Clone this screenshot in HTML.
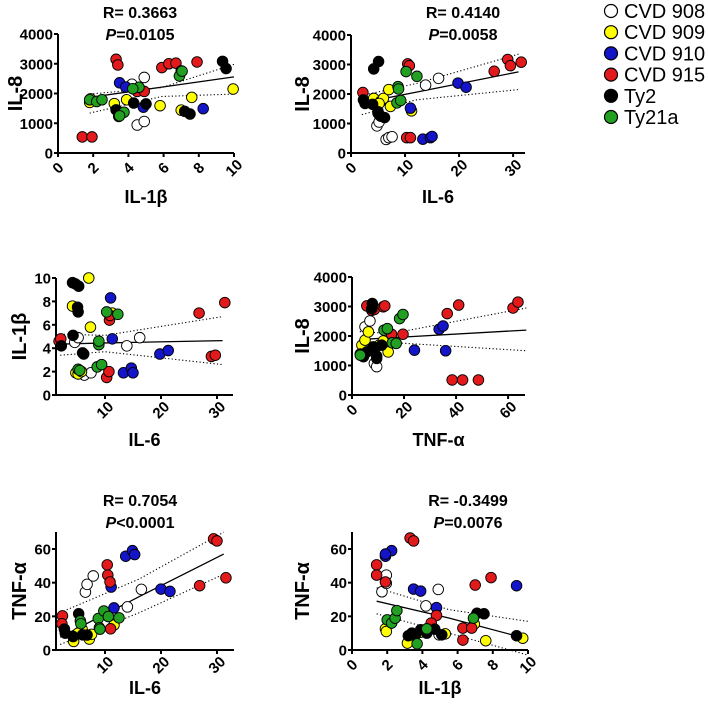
<!DOCTYPE html>
<html><head><meta charset="utf-8"><style>
body{margin:0;background:#fff;}
svg{display:block;font-family:"Liberation Sans",Arial,sans-serif;}
</style></head><body>
<svg id="c" width="708" height="707" viewBox="0 0 708 707"></svg>
<script>
// ---- Data (per panel, per group: [x, y] pairs) ----
const groups = ["CVD 908","CVD 909","CVD 910","CVD 915","Ty2","Ty21a"];
const groupColors = ["#ffffff","#ffff00","#1414c8","#e31a1c","#000000","#22a022"];

const p1White=[[4.2,2310],[4.9,2540],[4.5,940],[4.9,1060]];
const p1Yellow=[[1.85,1820],[1.8,1700],[3.2,1660],[3.9,1790],[5.8,1590],[7.0,1440],[7.6,1870],[9.95,2150]];
const p1Blue=[[3.5,2360],[3.85,2220],[4.85,1540],[8.25,1490]];
const p1Red=[[1.38,540],[1.93,540],[3.3,3150],[3.4,2960],[4.5,2070],[4.9,2070],[5.9,2870],[6.3,3000],[6.7,3020],[7.0,2760],[7.9,3060]];
const p1Black=[[9.35,3080],[9.55,2840],[3.3,1450],[3.45,1230],[4.3,1680],[5.0,1650],[7.5,1310],[7.2,1400]];
const p1Green=[[1.8,1790],[2.2,1730],[2.5,1790],[3.75,1370],[4.6,2210],[4.25,2160],[6.9,2590],[7.05,2750],[3.5,1250]];
const p1FitX=[1.8,5.9,10]; const p1Fit=[1870,2215,2560]; const p1Up=[1980,2200,2980]; const p1Lo=[1340,1900,1980];

const p2White=[[4.8,920],[5.2,1050],[6.5,460],[7,520],[7.6,550],[13.8,2300],[16.2,2530]];
const p2Yellow=[[4.2,1850],[5.5,1750],[6,1850],[7,2150],[7.3,1580],[11.2,1430],[5.2,1680]];
const p2Blue=[[11,1520],[13.3,470],[14.7,520],[15,560],[19.8,2370],[21.3,2230]];
const p2Red=[[2.2,2050],[10.5,3020],[10.8,2960],[10.3,520],[11,520],[26.5,2770],[29,3170],[29.5,2960],[31.5,3080]];
const p2Black=[[4.2,2850],[5.1,3100],[2.3,1800],[2.6,1680],[4,1650],[5,1400],[5.2,1300],[5.5,1250],[6.2,1200],[5,1350]];
const p2Green=[[8.5,1700],[9.2,1780],[8.7,2250],[8.8,2170],[10.2,2760],[12.2,2600]];
const p2FitX=[2,12,31]; const p2Fit=[1700,2060,2750]; const p2Up=[1950,2350,3350]; const p2Lo=[1300,1800,2150];

const p3White=[[4.6,4.5],[5.2,4.9],[6.3,1.7],[7.5,1.9],[13.9,4.2],[16.2,4.9]];
const p3Yellow=[[7.1,10],[4.2,7.6],[7.4,5.8],[11.3,7.0],[4.8,1.9],[5.2,1.8],[5.8,2.0]];
const p3Blue=[[11,8.3],[11.3,4.8],[13.3,1.9],[14.7,2.3],[15,1.9],[19.8,3.5],[21.3,3.8]];
const p3Red=[[1.8,4.6],[2.1,4.8],[10.3,1.5],[10.7,2.0],[10.8,6.4],[10.9,6.8],[26.8,7.0],[29,3.3],[29.7,3.4],[31.4,7.9]];
const p3Black=[[2.2,4.2],[4.2,9.6],[4.7,9.5],[5.3,9.3],[5.1,7.5],[5.2,7.1],[4.3,5.1],[6,3.6],[6.2,3.5]];
const p3Green=[[5.2,2.2],[5.5,2.1],[8.6,2.4],[9.4,2.6],[8.9,4.3],[8.9,4.6],[10.3,7.1],[12.3,6.9]];
const p3FitX=[2,10,31]; const p3Fit=[4.35,4.45,4.65]; const p3Up=[5.2,5.1,6.7]; const p3Lo=[3.4,3.7,2.6];

const p4White=[[5,2310],[6.9,2510],[8.6,1070],[9.5,960]];
const p4Yellow=[[3.8,1690],[5,1860],[6.3,2140],[8.8,1610],[10.5,1690],[12,1830],[13.9,1460]];
const p4Blue=[[24,1520],[33.5,2230],[35,2340],[36,1500]];
const p4Red=[[5.7,3020],[7.6,2870],[8.6,2900],[12,2990],[12.6,3020],[15.2,2060],[19.6,2060],[36.6,2760],[41,3050],[38.5,510],[42.5,510],[48.6,510],[61.9,2950],[63.8,3150]];
const p4Black=[[7.8,3100],[7.6,2930],[3.2,1390],[4.4,1300],[5.7,1460],[8.2,1630],[9.5,1240],[9.5,1320],[11.4,1690]];
const p4Green=[[3.2,1350],[12.3,2200],[13.6,2250],[15.5,1770],[17,1750],[18.3,2590],[19.6,2730]];
const p4FitX=[3,15,67]; const p4Fit=[1880,1940,2200]; const p4Up=[2150,2080,2950]; const p4Lo=[1700,1780,1500];

const p5White=[[6.5,34.4],[6.8,39],[7.9,44],[14,25.6],[16.5,36]];
const p5Yellow=[[4.4,5.1],[5.9,12.4],[7.2,6.5],[7.6,9.3],[11.6,14.8],[5.2,10]];
const p5Blue=[[11.1,37.4],[11.6,25],[13.7,55.7],[14.9,59],[15.3,56.7],[20,36.2],[21.6,34.8]];
const p5Red=[[2.4,20.3],[2.3,15.6],[10.4,50.6],[10.5,44.5],[10.9,40.4],[11,12.6],[26.9,38.2],[29.4,66],[30,64.8],[31.6,42.9]];
const p5Black=[[2.75,12.4],[2.9,10],[5.3,21.5],[4.3,8],[6,9],[6.8,8.9]];
const p5Green=[[5.6,17.3],[5.7,15.6],[8.8,18.7],[9,13.2],[9.1,12.4],[9.8,23.2],[10.6,19.9],[12.5,19.1]];
const p5FitX=[2,16,31.2]; const p5Fit=[7.6,31.5,57]; const p5Up=[22.2,42,70]; const p5Lo=[3.3,22,45];

const p6White=[[1.7,34.6],[1.95,44.5],[1.95,39.6],[4.2,26.2],[4.9,36],[4.95,9]];
const p6Yellow=[[1.9,12.6],[1.95,11],[3.15,4.1],[3.9,10.6],[5.3,9.6],[6.95,15.4],[7.6,5.5],[9.7,7]];
const p6Blue=[[1.9,55.7],[2.25,59],[1.9,57],[3.5,36.2],[3.9,35],[4.8,25.2],[9.35,38.2]];
const p6Red=[[1.4,50.6],[1.4,44.5],[1.9,40.4],[3.3,66.5],[3.5,64.8],[4.8,20.5],[4.5,16],[6.3,13],[6.3,5.9],[6.8,13],[7,38.6],[7.9,43]];
const p6Black=[[3.2,8.5],[3.4,10],[3.6,9],[4.25,10],[4.7,12.4],[5.1,9],[7.1,21.8],[7.5,21.5],[9.35,8.5],[3.9,12]];
const p6Green=[[2,17.9],[2.25,16],[2.45,18.9],[2.55,23.4],[3.7,3.7],[4.25,12.6],[6.9,18.9]];
const p6FitX=[1.4,5.5,10]; const p6Fit=[29,19,6.5]; const p6Up=[37,24,17]; const p6Lo=[21.5,10,-3];

const p1XTicks=[0,2,4,6,8,10]; const p1YTicks=[0,1000,2000,3000,4000];
const p2XTicks=[0,10,20,30]; const p2YTicks=[0,1000,2000,3000,4000];
const p3XTicks=[10,20,30]; const p3YTicks=[0,2,4,6,8,10];
const p4XTicks=[0,20,40,60]; const p4YTicks=[0,1000,2000,3000,4000];
const p5XTicks=[10,20,30]; const p5YTicks=[0,20,40,60];
const p6XTicks=[0,2,4,6,8,10]; const p6YTicks=[0,20,40,60];

const NS="http://www.w3.org/2000/svg";
const svg=document.getElementById('c');
function mk(tag,attrs,parent){const e=document.createElementNS(NS,tag);for(const k in attrs)e.setAttribute(k,attrs[k]);(parent||svg).appendChild(e);return e;}

const panels=[
 {id:'p1',px:[58,234],dx:[0,10],py:[153,34],dy:[0,4000],top:34,xt:p1XTicks,yt:p1YTicks,series:[p1White,p1Yellow,p1Blue,p1Red,p1Black,p1Green],fx:p1FitX,f:p1Fit,u:p1Up,l:p1Lo,xl:'IL-1β',yl:'IL-8',xlY:203,ylX:15,stat:['R= 0.3663','=0.0105'],statX:140,statY:12},
 {id:'p2',px:[351,525],dx:[0,32.2],py:[153,35],dy:[0,4000],top:35,xt:p2XTicks,yt:p2YTicks,series:[p2White,p2Yellow,p2Blue,p2Red,p2Black,p2Green],fx:p2FitX,f:p2Fit,u:p2Up,l:p2Lo,xl:'IL-6',yl:'IL-8',xlY:203,ylX:302,stat:['R= 0.4140','=0.0058'],statX:463,statY:12},
 {id:'p3',px:[56,233],dx:[1.25,32.86],py:[395,278],dy:[0,10],top:278,xt:p3XTicks,yt:p3YTicks,series:[p3White,p3Yellow,p3Blue,p3Red,p3Black,p3Green],fx:p3FitX,f:p3Fit,u:p3Up,l:p3Lo,xl:'IL-6',yl:'IL-1β',xlY:446,ylX:19},
 {id:'p4',px:[352,525],dx:[0,66.5],py:[395,277],dy:[0,4000],top:277,xt:p4XTicks,yt:p4YTicks,series:[p4White,p4Yellow,p4Blue,p4Red,p4Black,p4Green],fx:p4FitX,f:p4Fit,u:p4Up,l:p4Lo,xl:'TNF-α',yl:'IL-8',xlY:446,ylX:302},
 {id:'p5',px:[56,234],dx:[1.25,33.04],py:[650,549],dy:[0,60],top:532,xt:p5XTicks,yt:p5YTicks,series:[p5White,p5Yellow,p5Blue,p5Red,p5Black,p5Green],fx:p5FitX,f:p5Fit,u:p5Up,l:p5Lo,xl:'IL-6',yl:'TNF-α',xlY:694,ylX:19,stat:['R= 0.7054','<0.0001'],statX:140,statY:500},
 {id:'p6',px:[352,528],dx:[0,10],py:[650,549],dy:[0,60],top:532,xt:p6XTicks,yt:p6YTicks,series:[p6White,p6Yellow,p6Blue,p6Red,p6Black,p6Green],fx:p6FitX,f:p6Fit,u:p6Up,l:p6Lo,xl:'IL-1β',yl:'TNF-α',xlY:694,ylX:302,stat:['R= -0.3499','=0.0076'],statX:468,statY:500}
];

panels.forEach(P=>{
 const sx=v=>P.px[0]+(v-P.dx[0])/(P.dx[1]-P.dx[0])*(P.px[1]-P.px[0]);
 const sy=v=>P.py[0]+(v-P.dy[0])/(P.dy[1]-P.dy[0])*(P.py[1]-P.py[0]);
 const g=mk('g',{});
 
 
 const ax=mk('path',{d:`M${P.px[0]},${P.top}V${P.py[0]}H${P.px[1]}`,fill:'none',stroke:'#000','stroke-width':2},g);
 
 
 P.yt.forEach(t=>{
  const y=sy(t);
  mk('line',{x1:P.px[0]-4,x2:P.px[0],y1:y,y2:y,stroke:'#000','stroke-width':2},g);
  const tx=mk('text',{x:P.px[0]-5,y:y+5.5,'text-anchor':'end','font-size':15,'font-weight':'bold'},g);
  tx.textContent=t;
  
  
 });
 P.xt.forEach(t=>{
  const x=sx(t);
  mk('line',{x1:x,x2:x,y1:P.py[0],y2:P.py[0]+4,stroke:'#000','stroke-width':2},g);
  const tx=mk('text',{x:0,y:5,'text-anchor':'middle','font-size':15,'font-weight':'bold',transform:`translate(${x},${P.py[0]+15}) rotate(-45)`},g);
  tx.textContent=t;
  
  
 });
 const pts=a=>a.map((v,i)=>`${sx(P.fx[i])},${sy(v)}`).join(' ');
 const fl=mk('polyline',{points:pts(P.f),fill:'none',stroke:'#000','stroke-width':1.3},g);
 
 
 [P.u,P.l].forEach(a=>{
  const c=mk('polyline',{points:pts(a),fill:'none',stroke:'#000','stroke-width':1.1,'stroke-dasharray':'1.2 2.3'},g);
  
  
 });
 P.series.forEach((s,gi)=>{
  s.forEach(p=>{
   const c=mk('circle',{cx:sx(p[0]),cy:sy(p[1]),r:5.3,fill:groupColors[gi],stroke:'#000','stroke-width':0.9},g);
   
   
  });
 });
 const xl=mk('text',{x:(P.px[0]+P.px[1])/2,y:P.xlY,'text-anchor':'middle','font-size':18,'font-weight':'bold'},g);
 xl.textContent=P.xl;
 
 
 const ym=(P.top+P.py[0])/2;
 const yl=mk('text',{x:0,y:0,'text-anchor':'middle','font-size':20,'font-weight':'bold',transform:`translate(${P.ylX+7},${ym}) rotate(-90)`},g);
 yl.textContent=P.yl;
 
 
 if(P.stat){
  const r=mk('text',{x:P.statX,y:P.statY+6,'text-anchor':'middle','font-size':16,'font-weight':'bold'},g);
  r.textContent=P.stat[0];
  
  
  const pv=mk('text',{x:P.statX,y:P.statY+28,'text-anchor':'middle','font-size':16,'font-weight':'bold'},g);
  const ts=mk('tspan',{'font-style':'italic'},pv); ts.textContent='P';
  const ts2=mk('tspan',{},pv); ts2.textContent=P.stat[1];
  
  
 }
});

// legend
const lg=mk('g',{});


groups.forEach((n,i)=>{
 const y=11+i*21.2;
 const c=mk('circle',{cx:611,cy:y,r:6.5,fill:groupColors[i],stroke:'#000','stroke-width':1.2},lg);
 
 
 const t=mk('text',{x:624,y:y+7,'font-size':20},lg);
 t.textContent=n;
 
 
});
</script>
</body></html>
